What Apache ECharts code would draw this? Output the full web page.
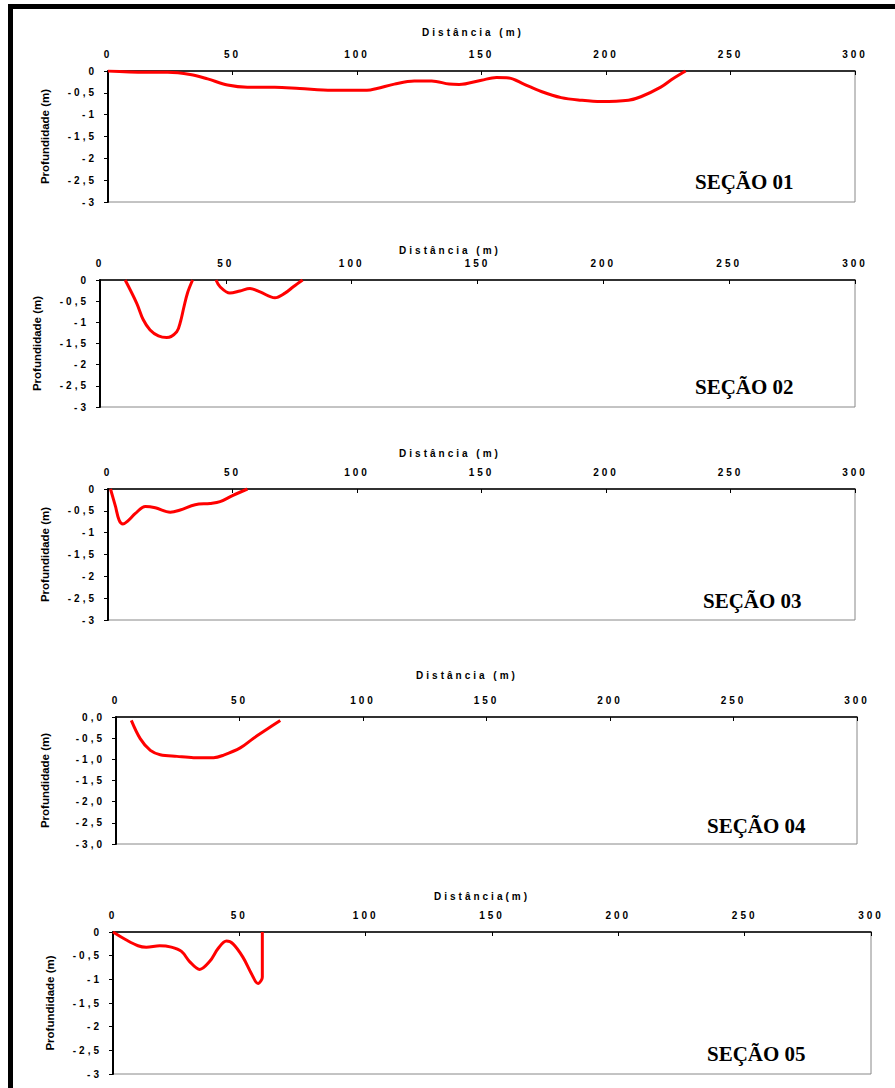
<!DOCTYPE html>
<html>
<head>
<meta charset="utf-8">
<script src="https://cdn.jsdelivr.net/npm/echarts@6/dist/echarts.min.js"></script>
<style>
  html, body { margin: 0; padding: 0; background: #fff; }
  #chart { width: 895px; height: 1088px; }
  text[style*="Arial"] { letter-spacing: 3px; }
</style>
</head>
<body>
<div id="chart"></div>
<script>
// ---- data (distance in m, depth in m) ----
const sec1X = [0, 15, 24, 33, 40, 48, 56, 67, 77, 90, 104, 108, 115, 123, 130, 137, 141, 150, 156, 161, 167, 174, 182, 190, 198, 209, 214, 222, 227, 232];
const sec1Y = [0, -0.03, -0.03, -0.08, -0.18, -0.32, -0.37, -0.37, -0.4, -0.44, -0.44, -0.4, -0.3, -0.23, -0.23, -0.3, -0.31, -0.21, -0.15, -0.16, -0.3, -0.47, -0.61, -0.67, -0.7, -0.67, -0.59, -0.37, -0.17, 0];

const sec2X = [10, 14.6, 17.2, 19.9, 23.2, 26.5, 30.5, 32, 33.3, 34.8, 36.8, 41, 46.1, 47.7, 51.6, 55.6, 59.6, 63.6, 69.5, 73.5, 76.8, 80.5];
const sec2Y = [0, -0.55, -0.94, -1.18, -1.32, -1.36, -1.22, -0.98, -0.65, -0.3, 0, null, 0, -0.16, -0.31, -0.26, -0.2, -0.28, -0.42, -0.31, -0.16, 0];

const sec3X = [1, 3, 4.5, 6, 8, 11, 15, 19, 25, 29, 35, 41, 45, 50, 56];
const sec3Y = [0, -0.4, -0.72, -0.8, -0.73, -0.56, -0.4, -0.43, -0.53, -0.48, -0.36, -0.33, -0.29, -0.15, 0];

const sec4X = [6.2, 9.8, 13.9, 17.9, 24.7, 31.4, 39.5, 43.6, 50.3, 55.7, 61.1, 66.5];
const sec4Y = [-0.08, -0.51, -0.79, -0.89, -0.93, -0.96, -0.96, -0.9, -0.73, -0.5, -0.29, -0.08];

const sec5X = [0, 5.3, 9.9, 13.2, 18.5, 23.1, 27.1, 30.4, 34.3, 38.3, 41.6, 44.9, 47.5, 51.4, 54.8, 57.4, 58.7, 59.1, 59.1];
const sec5Y = [0, -0.17, -0.29, -0.32, -0.29, -0.32, -0.41, -0.63, -0.79, -0.62, -0.35, -0.19, -0.25, -0.53, -0.88, -1.09, -1.02, -0.95, 0];

const sectionNames = ['SEÇÃO 01', 'SEÇÃO 02', 'SEÇÃO 03', 'SEÇÃO 04', 'SEÇÃO 05'];
const xTitles = ['Distância (m)', 'Distância (m)', 'Distância (m)', 'Distância (m)', 'Distância(m)'];
const yTitle = 'Profundidade (m)';
const xMin = 0, xMax = 300, xStep = 50;
const yMin = -3, yMax = 0, yStep = 0.5;

// ---- layout ----
const grids = [
  { left: 108, top: 71, width: 747, height: 131 },
  { left: 100, top: 280, width: 755, height: 127 },
  { left: 108, top: 489, width: 747, height: 131 },
  { left: 116, top: 717, width: 741, height: 127 },
  { left: 113, top: 932, width: 758, height: 142 }
];
const titlePos = [[473, 32], [450, 250], [450, 453], [467, 675], [482, 896]];
const namePos = [[695, 182], [695, 387], [703, 601], [707, 826], [707, 1054]];
const yNameGap = [57, 57, 57, 65, 57];
const oneDecimal = [false, false, false, true, false];

const series = [[sec1X, sec1Y], [sec2X, sec2Y], [sec3X, sec3Y], [sec4X, sec4Y], [sec5X, sec5Y]];

const chart = echarts.init(document.getElementById('chart'), null, { renderer: 'svg' });

const option = {
  animation: false,
  backgroundColor: '#fff',
  grid: grids.map(g => Object.assign({ show: true, borderColor: '#888', borderWidth: 1, containLabel: false }, g)),
  xAxis: grids.map((g, i) => ({
    gridIndex: i,
    type: 'value',
    position: 'top',
    min: xMin, max: xMax, interval: xStep,
    splitLine: { show: false },
    axisLine: { show: true, onZero: false, lineStyle: { color: '#000', width: 1.5 } },
    axisTick: { show: true, inside: true, length: 4, lineStyle: { color: '#000', width: 1 } },
    axisLabel: { margin: 12, color: '#000', fontFamily: 'Arial', fontWeight: 'bold', fontSize: 10 }
  })),
  yAxis: grids.map((g, i) => ({
    gridIndex: i,
    type: 'value',
    min: yMin, max: yMax, interval: yStep,
    splitLine: { show: false },
    axisLine: { show: true, onZero: false, lineStyle: { color: '#000', width: 2 } },
    axisTick: { show: true, inside: false, length: 4, lineStyle: { color: '#000', width: 1 } },
    axisLabel: {
      margin: 11, color: '#000', fontFamily: 'Arial', fontWeight: 'bold', fontSize: 10,
      formatter: v => (oneDecimal[i] ? v.toFixed(1) : String(v)).replace('.', ',')
    },
    name: yTitle,
    nameLocation: 'middle',
    nameGap: yNameGap[i],
    nameTextStyle: { color: '#000', fontFamily: 'Liberation Sans', fontWeight: 'bold', fontSize: 11.5 }
  })),
  series: series.map((s, i) => ({
    type: 'line',
    xAxisIndex: i,
    yAxisIndex: i,
    data: s[0].map((x, k) => [x, s[1][k] === null ? '-' : s[1][k]]),
    showSymbol: false,
    smooth: 0.35,
    connectNulls: false,
    clip: true,
    lineStyle: { color: '#ff0000', width: 3 },
    itemStyle: { color: '#ff0000' }
  })),
  graphic: [
    { type: 'rect', shape: { x: 8, y: 4, width: 887, height: 5 }, style: { fill: '#000' } },
    { type: 'rect', shape: { x: 8, y: 4, width: 5, height: 1084 }, style: { fill: '#000' } }
  ].concat(titlePos.map((p, i) => ({
    type: 'text', x: p[0], y: p[1],
    style: { text: xTitles[i], font: 'bold 10px Arial', fill: '#000', textAlign: 'center', textVerticalAlign: 'middle' }
  }))).concat(namePos.map((p, i) => ({
    type: 'text', x: p[0], y: p[1],
    style: { text: sectionNames[i], font: 'bold 21px "Liberation Serif"', fill: '#000', textAlign: 'left', textVerticalAlign: 'middle' }
  })))
};

chart.setOption(option);
</script>
</body>
</html>
